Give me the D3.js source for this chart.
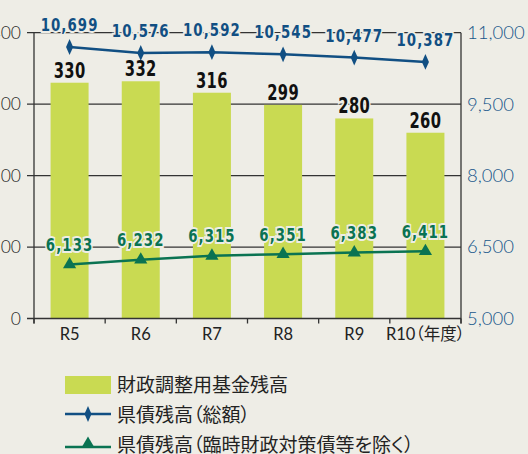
<!DOCTYPE html>
<html><head><meta charset="utf-8">
<script src="https://cdn.jsdelivr.net/npm/d3@7"></script>
<style>
html,body{margin:0;padding:0;background:#eeede6;overflow:hidden;}
svg{display:block;}
</style></head><body>
<svg id="c" width="528" height="454"></svg>
<script>
const categories = ["R5","R6","R7","R8","R9","R10（年度）"];
const fundValues = [330,332,316,299,280,260];
const debtTotal = [10699,10576,10592,10545,10477,10387];
const debtExcl = [6133,6232,6315,6351,6383,6411];
const leftTicks = [0,100,200,300,400];
const rightTicks = [5000,6500,8000,9500,11000];
const legendLabels = ["財政調整用基金残高","県債残高（総額）","県債残高（臨時財政対策債等を除く）"];

const BG = "#eeede6", BAR = "#c9da52", BLUE = "#114f83", GREEN = "#0a7352", AXIS = "#333";
const NUMFONT = "'DejaVu Sans',sans-serif";
const JPFONT = "'Noto Sans CJK JP','Noto Sans',sans-serif";
const SX = 0.72;

const svg = d3.select("#c");
svg.append("rect").attr("width",528).attr("height",454).attr("fill",BG);

const L = 34, R = 461, T = 32.7, B = 318.5;
const x = d3.scaleBand().domain(categories).range([L,R]).paddingInner(0.466).paddingOuter(0.233);
const yL = d3.scaleLinear().domain([0,400]).range([B,T]);
const yR = d3.scaleLinear().domain([5000,11000]).range([B,T]);
const cx = c => x(c) + x.bandwidth()/2;

// gridlines
svg.append("g").selectAll("line").data(leftTicks).join("line")
  .attr("x1",L-7).attr("x2",R).attr("y1",d=>yL(d)).attr("y2",d=>yL(d))
  .attr("stroke",AXIS).attr("stroke-width",1.2);

// left axis
const gl = svg.append("g").attr("transform",`translate(${L},0)`)
  .call(d3.axisLeft(yL).tickValues(leftTicks).tickSize(0).tickPadding(13).tickFormat(d3.format(",")));
gl.select(".domain").remove();
gl.selectAll("text").attr("font-family","Lato,'Open Sans',sans-serif").attr("font-weight",300)
  .attr("font-size",17.5).attr("fill","#222");
svg.append("line").attr("x1",L).attr("x2",L).attr("y1",T).attr("y2",B+5).attr("stroke",AXIS).attr("stroke-width",1.3);

// right axis
const gr = svg.append("g").attr("transform",`translate(${R},0)`)
  .call(d3.axisRight(yR).tickValues(rightTicks).tickSize(0).tickPadding(6).tickFormat(d3.format(",")));
gr.select(".domain").remove();
gr.selectAll("text").attr("font-family","Lato,'Open Sans',sans-serif").attr("font-weight",300)
  .attr("font-size",18.5).attr("fill","#17568a");
svg.append("line").attr("x1",R).attr("x2",R).attr("y1",T).attr("y2",B+5).attr("stroke",AXIS).attr("stroke-width",1.3);

// bars
svg.append("g").selectAll("rect").data(fundValues).join("rect")
  .attr("x",(d,i)=>x(categories[i])).attr("width",x.bandwidth())
  .attr("y",d=>yL(d)).attr("height",d=>B-yL(d)).attr("fill",BAR);

// zero line (over bars)
svg.append("line").attr("x1",L-7).attr("x2",R).attr("y1",B).attr("y2",B).attr("stroke",AXIS).attr("stroke-width",1.3);

// bottom axis
const gb = svg.append("g").attr("transform",`translate(0,${B})`)
  .call(d3.axisBottom(x).tickSize(0).tickPadding(10));
gb.select(".domain").remove();
gb.selectAll("text").attr("font-family",`Lato,${JPFONT}`).attr("font-weight",400)
  .attr("font-size",16.5).attr("fill","#222").style("font-feature-settings","'palt'");
const step = x.step(), gap = step - x.bandwidth();
const bounds = categories.map(c => x(c) - gap/2).concat([R]);
svg.append("g").selectAll("line").data(bounds).join("line")
  .attr("x1",d=>d).attr("x2",d=>d).attr("y1",B).attr("y2",B+5)
  .attr("stroke",AXIS).attr("stroke-width",1.3);

// bar labels
svg.append("g").selectAll("text").data(fundValues).join("text")
  .attr("transform",(d,i)=>`translate(${cx(categories[i])},${yL(d)-5}) scale(${SX},1)`)
  .attr("text-anchor","middle").attr("font-family",NUMFONT).attr("font-weight","bold")
  .attr("font-size",20.5).attr("letter-spacing",0.5).attr("fill","#111")
  .attr("stroke",BG).attr("stroke-width",4).attr("paint-order","stroke")
  .text(d=>d3.format(",")(d));

// lines
const diamond = d3.symbol().type(d3.symbolDiamond).size(60);
const tri = d3.symbol().type(d3.symbolTriangle).size(75);

function series(vals, color, sym, symScale, offset){
  const g = svg.append("g");
  g.append("path").datum(vals)
    .attr("d", d3.line().x((d,i)=>cx(categories[i])).y(d=>yR(d)))
    .attr("fill","none").attr("stroke",color).attr("stroke-width",2.5);
  g.selectAll("path.m").data(vals).join("path").attr("class","m")
    .attr("transform",(d,i)=>`translate(${cx(categories[i])},${yR(d)}) ${symScale}`)
    .attr("d",sym).attr("fill",color);
  g.selectAll("text").data(vals).join("text")
    .attr("transform",(d,i)=>`translate(${cx(categories[i])},${yR(d)-offset}) scale(${SX},1)`)
    .attr("text-anchor","middle").attr("font-family",NUMFONT).attr("font-weight","bold")
    .attr("font-size",18.5).attr("letter-spacing",1.5).attr("fill",color)
    .attr("stroke",BG).attr("stroke-width",4).attr("paint-order","stroke")
    .text(d=>d3.format(",")(d));
}
series(debtTotal, BLUE, diamond(), "scale(0.85,1.1)", 16);
series(debtExcl, GREEN, tri(), "", 13.5);

// legend
const lg = svg.append("g").attr("font-family",JPFONT).attr("font-size",19).attr("fill","#222")
  .style("font-feature-settings","'palt'");
const rows = [385.5, 415.5, 445];
lg.append("rect").attr("x",65).attr("y",376).attr("width",46).attr("height",18).attr("fill",BAR);
lg.append("line").attr("x1",65).attr("x2",111).attr("y1",414).attr("y2",414).attr("stroke",BLUE).attr("stroke-width",2.5);
lg.append("path").attr("transform","translate(88,414) scale(0.85,1.1)").attr("d",diamond()).attr("fill",BLUE);
lg.append("line").attr("x1",65).attr("x2",111).attr("y1",447).attr("y2",447).attr("stroke",GREEN).attr("stroke-width",2.5);
lg.append("path").attr("transform","translate(88,444)").attr("d",tri()).attr("fill",GREEN);
lg.selectAll("text").data(legendLabels).join("text")
  .attr("x",117).attr("y",(d,i)=>rows[i]).attr("dy","0.36em").text(d=>d);
</script>
</body></html>
